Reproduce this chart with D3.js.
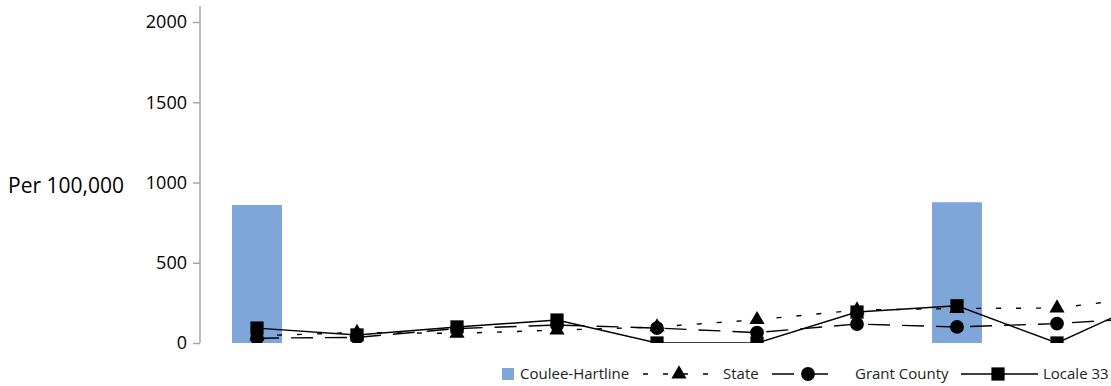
<!DOCTYPE html>
<html>
<head>
<meta charset="utf-8">
<script src="https://cdn.jsdelivr.net/npm/d3@7"></script>
<style>
  body { margin: 0; background: #fff; }
  text { font-family: "Open Sans", sans-serif; }
</style>
</head>
<body>
<svg id="chart" width="1111" height="386"></svg>
<script>
// values (10th point sits past the right edge)
var categories = ["1", "2", "3", "4", "5", "6", "7", "8", "9", "10"];
var couleeHartline = [860, null, null, null, null, null, null, 877, null, null];
var stateVals = [45, 65, 60, 80, 100, 145, 205, 215, 218, 293];
var grantCounty = [30, 35, 90, 112, 93, 65, 118, 100, 121, 160];
var locale33 = [93, 50, 100, 143, 0, 0, 193, 232, 0, 285];
var yTicks = [0, 500, 1000, 1500, 2000];

var svg = d3.select("#chart");

var x = d3.scaleBand()
  .domain(categories)
  .range([207, 1207])
  .paddingInner(0.5)
  .paddingOuter(0.25);

var y = d3.scaleLinear()
  .domain([0, 2000])
  .range([343, 22]);

// clip marks to the plot area
svg.append("defs").append("clipPath")
  .attr("id", "plotclip")
  .append("rect")
  .attr("x", 200).attr("y", 0)
  .attr("width", 1111 - 200).attr("height", y(0));

var plot = svg.append("g").attr("clip-path", "url(#plotclip)");

// bars
plot.append("g")
  .selectAll("rect")
  .data(categories.map(function(c, i) { return {c: c, v: couleeHartline[i]}; })
    .filter(function(d) { return d.v != null; }))
  .enter()
  .append("rect")
    .attr("x", function(d) { return x(d.c); })
    .attr("y", function(d) { return y(d.v); })
    .attr("width", x.bandwidth())
    .attr("height", function(d) { return y(0) - y(d.v); })
    .style("fill", "#7ea6d8");

var cx = function(i) { return x(categories[i]) + x.bandwidth() / 2; };

var series = [
  {name: "State", vals: stateVals, dash: "5,15", sym: d3.symbolTriangle, size: 100},
  {name: "Grant County", vals: grantCounty, dash: "22,12", sym: d3.symbolCircle, size: 150},
  {name: "Locale 33", vals: locale33, dash: null, sym: d3.symbolSquare, size: 175}
];

var line = d3.line()
  .x(function(d, i) { return cx(i); })
  .y(function(d) { return y(d); });

series.forEach(function(s) {
  plot.append("path")
    .datum(s.vals)
    .attr("d", line)
    .style("fill", "none")
    .style("stroke", "#000")
    .style("stroke-width", 1.4)
    .style("stroke-dasharray", s.dash);
});

series.forEach(function(s) {
  plot.append("g")
    .selectAll("path")
    .data(s.vals)
    .enter()
    .append("path")
      .attr("d", d3.symbol().type(s.sym).size(s.size))
      .attr("transform", function(d, i) { return "translate(" + cx(i) + "," + y(d) + ")"; })
      .style("fill", "#000");
});

// y axis
var yAxis = svg.append("g")
  .attr("transform", "translate(200,0)")
  .call(d3.axisLeft(y).tickValues(yTicks).tickFormat(d3.format("d"))
    .tickSize(7).tickSizeOuter(0).tickPadding(6));
yAxis.select(".domain").remove();
yAxis.selectAll(".tick line").style("stroke", "#a6a6a6").style("stroke-width", 1.5);
yAxis.selectAll(".tick text")
  .style("font-family", "'Open Sans', sans-serif")
  .style("font-size", "18px")
  .style("fill", "#000");
yAxis.append("line")
  .attr("x1", 0).attr("x2", 0)
  .attr("y1", y(0)).attr("y2", y(2100))
  .style("stroke", "#a6a6a6")
  .style("stroke-width", 1.5);

svg.append("text")
  .attr("x", 8)
  .attr("y", 186)
  .attr("dy", "0.35em")
  .style("font-size", "21px")
  .style("fill", "#000")
  .text("Per 100,000");

// legend
var legend = svg.append("g").attr("transform", "translate(0,374)");

legend.append("rect")
  .attr("x", 502).attr("y", -6)
  .attr("width", 12).attr("height", 12)
  .style("fill", "#7ea6d8");
legend.append("text")
  .attr("x", 520).attr("dy", "0.35em")
  .style("font-size", "15px").style("fill", "#222")
  .text("Coulee-Hartline");

var legendItems = [
  {s: series[0], x1: 643, x2: 712, mx: 679, tx: 723},
  {s: series[1], x1: 772, x2: 837, mx: 808, tx: 855},
  {s: series[2], x1: 961, x2: 1038, mx: 998, tx: 1043}
];

legendItems.forEach(function(it) {
  legend.append("line")
    .attr("x1", it.x1).attr("x2", it.x2)
    .style("stroke", "#000")
    .style("stroke-width", 1.4)
    .style("stroke-dasharray", it.s.dash);
  legend.append("path")
    .attr("d", d3.symbol().type(it.s.sym).size(it.s.size))
    .attr("transform", "translate(" + it.mx + ",0)")
    .style("fill", "#000");
  legend.append("text")
    .attr("x", it.tx).attr("dy", "0.35em")
    .style("font-size", "15px").style("fill", "#222")
    .text(it.s.name);
});
</script>
</body>
</html>
